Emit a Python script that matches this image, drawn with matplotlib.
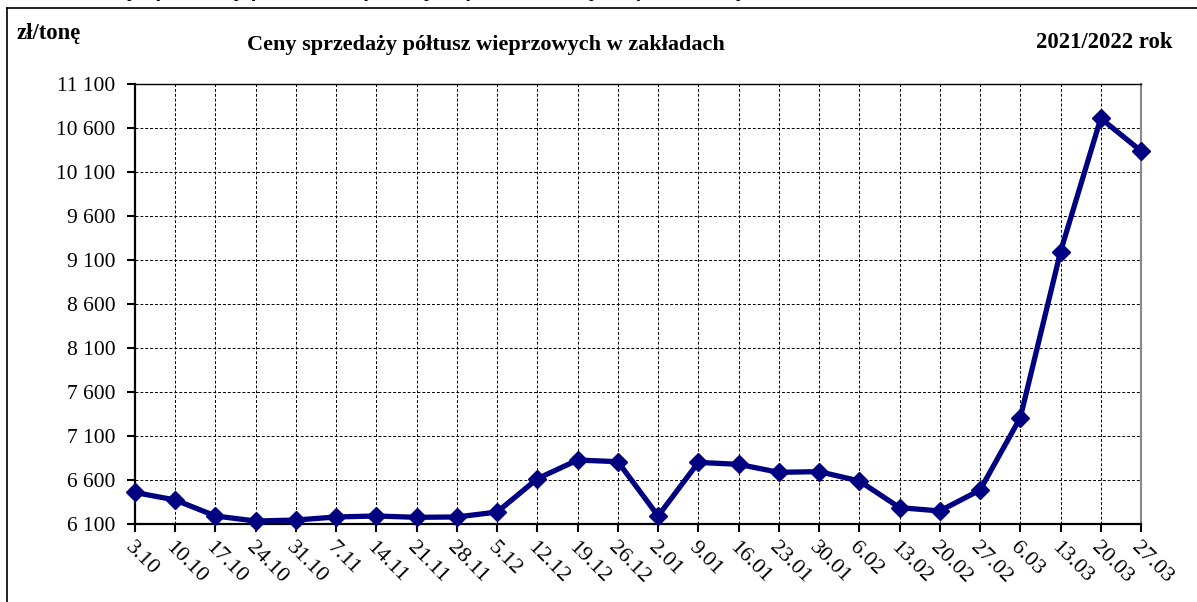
import numpy as np
import matplotlib
matplotlib.use("Agg")
import matplotlib.pyplot as plt
from matplotlib.lines import Line2D

# weekly dates (week starting) and prices in zl/tonne
dates = ["3.10", "10.10", "17.10", "24.10", "31.10", "7.11", "14.11", "21.11", "28.11",
         "5.12", "12.12", "19.12", "26.12", "2.01", "9.01", "16.01", "23.01", "30.01",
         "6.02", "13.02", "20.02", "27.02", "6.03", "13.03", "20.03", "27.03"]
prices = [6458, 6373, 6191, 6134, 6145, 6180, 6191, 6176, 6180,
          6236, 6615, 6827, 6808, 6191, 6800, 6778, 6687, 6695,
          6589, 6286, 6248, 6486, 7308, 9194, 10710, 10339]
y_ticks = [6100, 6600, 7100, 7600, 8100, 8600, 9100, 9600, 10100, 10600, 11100]

plt.rcParams["font.family"] = ["Liberation Serif", "DejaVu Serif"]

fig = plt.figure(figsize=(11.97, 6.02), dpi=100)
ax = fig.add_axes([135 / 1197, 1 - 524 / 602, (1141 - 135) / 1197, (524 - 84) / 602])

x = np.arange(len(dates))
ax.plot(x, prices, color="#000080", linewidth=3.8, marker="D", markersize=9,
        markerfacecolor="#000080", markeredgecolor="#000080", zorder=3, clip_on=False)

ax.set_xlim(0, len(dates) - 1)
ax.set_ylim(y_ticks[0], y_ticks[-1])
ax.set_xticks(x)
ax.set_xticklabels(dates, rotation=-45, ha="left", va="top", rotation_mode="anchor", fontsize=16)
ax.set_yticks(y_ticks)
ax.set_yticklabels(["{:,}".format(v).replace(",", " ") for v in y_ticks], fontsize=15.5)
ax.tick_params(axis="both", direction="out", length=6, width=1.5, color="black")
ax.tick_params(axis="x", pad=4)
ax.tick_params(axis="y", pad=8)

ax.grid(True, color="black", linestyle=(0, (3, 2)), linewidth=0.7)
ax.set_axisbelow(True)
ax.spines["left"].set_linewidth(1.6)
ax.spines["bottom"].set_linewidth(1.6)
ax.spines["top"].set_linewidth(1.0)
ax.spines["right"].set_color("#888888")
ax.spines["right"].set_linewidth(1.5)

fig.text(17 / 1197, 1 - 34 / 602, "zł/tonę", fontsize=16.3, fontweight="bold", ha="left", va="center")
fig.text(486 / 1197, 1 - 45 / 602, "Ceny sprzedaży półtusz wieprzowych w zakładach",
         fontsize=16, fontweight="bold", ha="center", va="center")
fig.text(1172 / 1197, 1 - 43 / 602, "2021/2022 rok", fontsize=16.3, fontweight="bold", ha="right", va="center")

# caption above the frame, mostly cut off by the image edge (as in the source)
fig.text(10 / 1197, 1 + 3 / 602, "Średnie ceny sprzedaży półtusz wieprzowych przez zakłady mięsne w kraju",
         fontsize=15, fontstyle="italic", fontweight="bold", family=["Liberation Sans", "DejaVu Sans"],
         ha="left", va="baseline")

# outer frame
fig.add_artist(Line2D([7 / 1197, 7 / 1197], [0, 1 - 8 / 602], transform=fig.transFigure, color="black", linewidth=1.2))
fig.add_artist(Line2D([7 / 1197, 1], [1 - 8 / 602, 1 - 8 / 602], transform=fig.transFigure, color="black", linewidth=1.2))

plt.savefig("out.png", dpi=100)
plt.close()
